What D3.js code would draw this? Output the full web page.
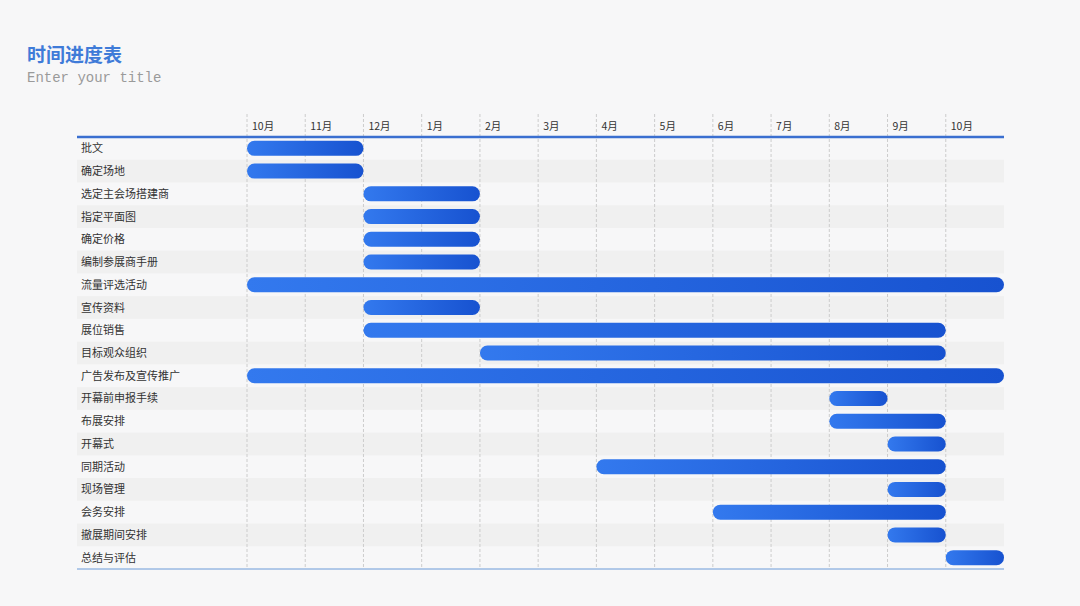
<!DOCTYPE html>
<html>
<head>
<meta charset="utf-8">
<script src="https://cdn.jsdelivr.net/npm/d3@7"></script>
<style>
  html, body { margin: 0; padding: 0; background: #f7f7f8; }
  svg { display: block; }
</style>
</head>
<body>
<div id="chart"></div>
<script>
// months across the top, one column each
const months = ["10月", "11月", "12月", "1月", "2月", "3月", "4月", "5月", "6月", "7月", "8月", "9月", "10月"];

// tasks, with start / end as month column indexes
const tasks = ["批文", "确定场地", "选定主会场搭建商", "指定平面图", "确定价格", "编制参展商手册",
    "流量评选活动", "宣传资料", "展位销售", "目标观众组织", "广告发布及宣传推广", "开幕前申报手续",
    "布展安排", "开幕式", "同期活动", "现场管理", "会务安排", "撤展期间安排", "总结与评估"];
const starts = [0, 0, 2, 2, 2, 2, 0, 2, 2, 4, 0, 10, 10, 11, 6, 11, 8, 11, 12];
const ends = [2, 2, 4, 4, 4, 4, 13, 4, 12, 12, 13, 11, 12, 12, 12, 12, 12, 12, 13];

const W = 1080, H = 606;
const m = { left: 77, grid: 247, right: 1004, top: 137, bottom: 569 };

const svg = d3.select("#chart").append("svg")
    .attr("width", W)
    .attr("height", H);

const defs = svg.append("defs");
const grad = defs.append("linearGradient")
    .attr("id", "barGrad")
    .attr("x1", "0%").attr("x2", "100%")
    .attr("y1", "0%").attr("y2", "0%");
grad.append("stop").attr("offset", "0%").attr("stop-color", "#3379ee");
grad.append("stop").attr("offset", "100%").attr("stop-color", "#1752d0");

const x = d3.scaleLinear().domain([0, months.length]).range([m.grid, m.right]);
const y = d3.scaleBand().domain(tasks).range([m.top, m.bottom]);

// title
svg.append("text")
    .attr("x", 27).attr("y", 62)
    .style("font-family", "'Noto Sans CJK SC'")
    .style("font-weight", "bold")
    .style("font-size", "19px")
    .style("fill", "#3f7bd8")
    .text("时间进度表");

svg.append("text")
    .attr("x", 27).attr("y", 82)
    .style("font-family", "'Liberation Mono'")
    .style("font-size", "14px")
    .style("fill", "#9a9a9a")
    .text("Enter your title");

// row stripes
svg.append("g").selectAll("rect")
    .data(tasks.filter((d, i) => i % 2 === 1))
    .join("rect")
    .attr("x", m.left)
    .attr("y", d => y(d))
    .attr("width", m.right - m.left)
    .attr("height", y.bandwidth())
    .style("fill", "#f0f0f0");

// month grid lines
svg.append("g").selectAll("line")
    .data(d3.range(months.length))
    .join("line")
    .attr("x1", d => x(d)).attr("x2", d => x(d))
    .attr("y1", 114).attr("y2", m.bottom)
    .style("stroke", "#cccccc")
    .style("stroke-width", 1)
    .style("stroke-dasharray", "3,2");

// month labels
svg.append("g").selectAll("text")
    .data(months)
    .join("text")
    .attr("x", (d, i) => x(i) + 5)
    .attr("y", 130)
    .style("font-family", "'Noto Sans CJK SC'")
    .style("font-size", "10.5px")
    .style("fill", "#333")
    .text(d => d);

// header and bottom rules
svg.append("line")
    .attr("x1", m.left).attr("x2", m.right)
    .attr("y1", m.top).attr("y2", m.top)
    .style("stroke", "#3a6fd0")
    .style("stroke-width", 2.5);

svg.append("line")
    .attr("x1", m.left).attr("x2", m.right)
    .attr("y1", m.bottom).attr("y2", m.bottom)
    .style("stroke", "#6a9ad8")
    .style("stroke-width", 1);

// task labels
svg.append("g").selectAll("text")
    .data(tasks)
    .join("text")
    .attr("x", 81)
    .attr("y", d => y(d) + y.bandwidth() / 2 + 4)
    .style("font-family", "'Noto Sans CJK SC'")
    .style("font-size", "11px")
    .style("fill", "#333")
    .text(d => d);

// bars
const barH = 15;
svg.append("g").selectAll("rect")
    .data(tasks)
    .join("rect")
    .attr("x", (d, i) => x(starts[i]))
    .attr("y", d => y(d) + (y.bandwidth() - barH) / 2)
    .attr("width", (d, i) => x(ends[i]) - x(starts[i]))
    .attr("height", barH)
    .attr("rx", barH / 2)
    .attr("ry", barH / 2)
    .style("fill", "url(#barGrad)");
</script>
</body>
</html>
